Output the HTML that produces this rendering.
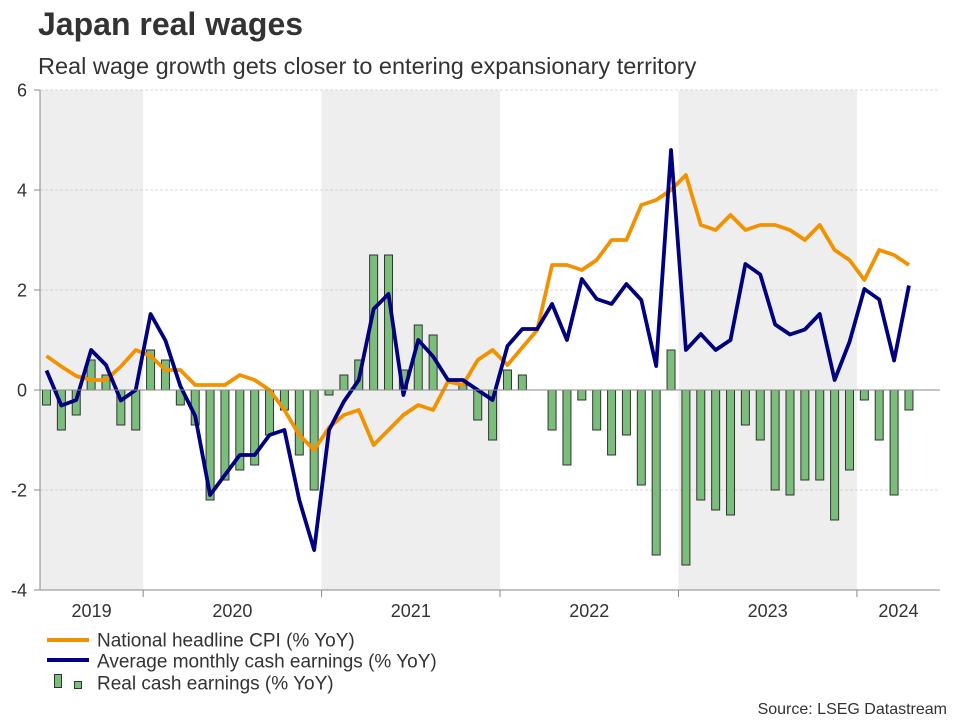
<!DOCTYPE html>
<html><head><meta charset="utf-8"><style>
body{margin:0;background:#fff;font-family:"Liberation Sans",Arial,sans-serif;}
svg text{font-family:"Liberation Sans",Arial,sans-serif;}
</style></head><body>
<svg id="chart" width="960" height="720" xmlns="http://www.w3.org/2000/svg">
<text x="38" y="35" font-size="32" font-weight="bold" fill="#333">Japan real wages</text>
<text x="38" y="74" font-size="23.5" fill="#333">Real wage growth gets closer to entering expansionary territory</text>
<g id="shade"></g><g id="grid"></g><g id="bars"></g><g id="lines"></g><g id="axes"></g>
<g>
<line x1="47" y1="640" x2="89" y2="640" stroke="#F39200" stroke-width="4"/>
<text x="97" y="646.5" font-size="19" fill="#333">National headline CPI (% YoY)</text>
<line x1="47" y1="660" x2="89" y2="660" stroke="#000080" stroke-width="4"/>
<text x="97" y="667.5" font-size="19" fill="#333">Average monthly cash earnings (% YoY)</text>
<rect x="54.5" y="674.5" width="7" height="13" fill="#7BBE7B" stroke="#333"/>
<rect x="74.5" y="681.5" width="7" height="7" fill="#7BBE7B" stroke="#333"/>
<text x="97" y="689.5" font-size="19" fill="#333">Real cash earnings (% YoY)</text>
</g>
<text x="947" y="714" font-size="16" fill="#333" text-anchor="end">Source: LSEG Datastream</text>
</svg>
<script>
const yearLabels=["2019","2020","2021","2022","2023","2024"];
const yTicks=[-4,-2,0,2,4,6];
// monthly Jun 2019 .. Apr 2024
const realEarnings=[-0.3,-0.8,-0.5,0.6,0.3,-0.7,-0.8,0.8,0.6,-0.3,-0.7,-2.2,-1.8,-1.6,-1.5,-0.9,-0.4,-1.3,-2.0,-0.1,
0.3,0.6,2.7,2.7,0.4,1.3,1.1,0.0,0.1,-0.6,-1.0,0.4,0.3,0.0,-0.8,-1.5,-0.2,-0.8,-1.3,-0.9,
-1.9,-3.3,0.8,-3.5,-2.2,-2.4,-2.5,-0.7,-1.0,-2.0,-2.1,-1.8,-1.8,-2.6,-1.6,-0.2,-1.0,-2.1,-0.4];
const cpi=[0.68,0.47,0.28,0.2,0.2,0.47,0.8,0.68,0.4,0.4,0.1,0.1,0.1,0.3,0.2,0.0,-0.4,-0.9,-1.2,-0.75,
-0.5,-0.4,-1.1,-0.8,-0.5,-0.3,-0.4,0.17,0.1,0.6,0.8,0.5,0.85,1.2,2.5,2.5,2.4,2.6,3.0,3.0,
3.7,3.8,4.0,4.3,3.3,3.2,3.5,3.2,3.3,3.3,3.2,3.0,3.3,2.8,2.6,2.2,2.8,2.7,2.5];
const earnings=[0.39,-0.31,-0.2,0.8,0.5,-0.21,0.0,1.52,0.99,0.08,-0.52,-2.1,-1.7,-1.3,-1.3,-0.9,-0.8,-2.2,-3.2,-0.8,
-0.23,0.2,1.62,1.92,-0.1,1.0,0.67,0.2,0.2,0.0,-0.2,0.88,1.22,1.22,1.72,1.0,2.22,1.82,1.72,2.12,
1.8,0.48,4.8,0.8,1.12,0.8,1.0,2.52,2.31,1.31,1.11,1.21,1.52,0.2,0.96,2.02,1.81,0.59,2.09];

const NS="http://www.w3.org/2000/svg";
const L=40,R=940,T=90,B=590,yMin=-4,yMax=6;
const x0=46.5,step=14.87;
function xS(i){return x0+i*step;}
function yS(v){return B-(v-yMin)/(yMax-yMin)*(B-T);}
function yearStart(k){return x0-5*step-step/2+(k)*12*step;}
function mk(tag,attrs,parent){const e=document.createElementNS(NS,tag);for(const k in attrs)e.setAttribute(k,attrs[k]);parent.appendChild(e);return e;}
const shade=document.getElementById('shade'),grid=document.getElementById('grid'),bars=document.getElementById('bars'),lines=document.getElementById('lines'),axes=document.getElementById('axes');
yearLabels.forEach((y,k)=>{
  const a=Math.max(L,yearStart(k)),b=Math.min(R,yearStart(k+1));
  if(k%2===0){const r=mk('rect',{x:a,y:T,width:b-a,height:B-T,fill:'#EEEEEE'},shade);
  
  }
  const t=mk('text',{x:(a+b)/2,y:617,'font-size':18,fill:'#333','text-anchor':'middle'},axes);t.textContent=y;
  
  
  if(k>0){const tk=mk('line',{x1:yearStart(k),x2:yearStart(k),y1:B,y2:B+7,stroke:'#888'},axes);
  
  }
});
yTicks.forEach(v=>{
  const y=yS(v);
  if(v!==0&&v!==yMin){const g=mk('line',{x1:L,x2:R,y1:y,y2:y,stroke:'#ccc','stroke-dasharray':'3,2','stroke-width':0.8},grid);
  
  }
  const tk=mk('line',{x1:L-6,x2:L,y1:y,y2:y,stroke:'#888'},axes);
  
  
  const t=mk('text',{x:27,y:y+6.5,'font-size':18,fill:'#333','text-anchor':'end'},axes);t.textContent=v;
  
  
});
realEarnings.forEach((v,i)=>{
  const y=yS(Math.max(v,0)),h=Math.abs(yS(v)-yS(0));
  const r=mk('rect',{x:xS(i)-4,y:y,width:8,height:h,fill:'#7BBE7B',stroke:'#333','stroke-width':1},bars);
  
  
});
const zl=mk('line',{x1:L,x2:R,y1:yS(0),y2:yS(0),stroke:'#888','stroke-width':1},axes);


const xa=mk('line',{x1:L-6,x2:R,y1:B,y2:B,stroke:'#888'},axes);


const ya=mk('line',{x1:L,x2:L,y1:T,y2:B,stroke:'#888'},axes);


function line(arr,col,name){
  const p=mk('polyline',{points:arr.map((v,i)=>xS(i)+','+yS(v)).join(' '),fill:'none',stroke:col,'stroke-width':3.8,'stroke-linejoin':'round'},lines);
  
  
}
line(cpi,'#F39200','line-cpi');
line(earnings,'#000080','line-earnings');
</script>
</body></html>
